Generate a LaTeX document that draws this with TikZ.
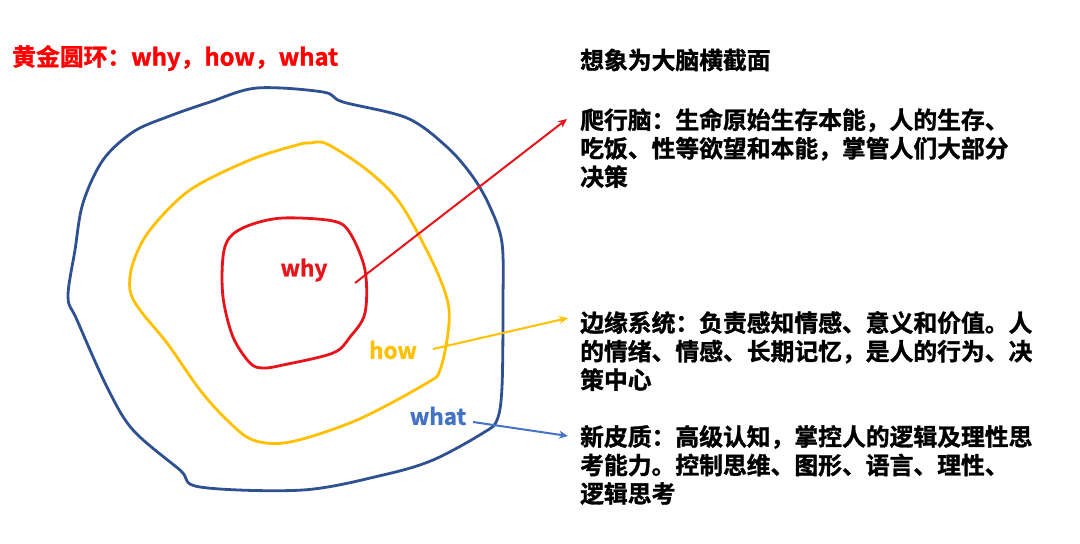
\documentclass[tikz,border=0pt]{standalone}
\usepackage{fontspec}
\setmainfont{Noto Sans CJK SC}[BoldFont={Noto Sans CJK SC Bold}, BoldFeatures={FakeBold=1.3}]
\usetikzlibrary{arrows.meta}
\definecolor{cred}{HTML}{FF0000}
\definecolor{lred}{HTML}{E8141C}
\definecolor{cyel}{HTML}{FFC000}
\definecolor{cnavy}{HTML}{2F5091}
\definecolor{cblue}{HTML}{4472C4}
\tikzset{
  loop/.style={line width=2.8pt, line join=round},
  conn/.style={line width=2pt, -{Stealth[length=9pt,width=8pt]}},
  body/.style={anchor=north west, inner sep=0pt, align=left, font=\bfseries\fontsize{23.8}{28.5}\selectfont},
  lab/.style={inner sep=0pt, font=\bfseries\fontsize{22.5}{26}\selectfont},
}
\begin{document}
\begin{tikzpicture}[x=1pt,y=-1pt]
\useasboundingbox (0,0) rectangle (1080,544);
% loops
\draw[loop, cnavy] plot[smooth cycle, tension=0.55] coordinates {(257,88) (323,92) (343,102) (407,118) (447,147) (473,177) (490,207) (502,243) (503,303) (502,387) (497,420) (483,433) (433,460) (383,475) (303,490) (200,487) (180,470) (133,430) (107,387) (77,320) (68,297) (75,250) (83,203) (103,160) (133,132) (167,117) (210,102)};
\draw[loop, cyel] plot[smooth cycle, tension=0.55] coordinates {(310,143) (327,144) (367,170) (400,203) (433,263) (448,303) (448,333) (440,370) (427,383) (357,420) (290,442) (253,440) (227,420) (200,390) (167,343) (140,310) (130,290) (133,263) (150,230) (190,190) (250,160) (297,145)};
\draw[loop, lred] plot[smooth cycle, tension=0.55] coordinates {(283,218) (333,221) (350,233) (365,270) (365,313) (350,337) (333,353) (283,365) (263,368) (250,363) (233,337) (223,297) (223,257) (230,237) (250,225)};
% title
\node[body, anchor=west, text=cred] (title) at (12,58) {黄金圆环：why，how，what};
\node[body, anchor=west] (head) at (580,60) {想象为大脑横截面};
% labels
\node[lab, text=lred] (why) at (304,270) {why};
\node[lab, text=cyel] (how) at (393,350) {how};
\node[lab, text=cblue] (what) at (438,416) {what};
% text blocks
\node[body] (t1) at (580,108) {爬行脑：生命原始生存本能，人的生存、\\吃饭、性等欲望和本能，掌管人们大部分\\决策};
\node[body] (t2) at (580,311) {边缘系统：负责感知情感、意义和价值。人\\的情绪、情感、长期记忆，是人的行为、决\\策中心};
\node[body] (t3) at (580,425) {新皮质：高级认知，掌控人的逻辑及理性思\\考能力。控制思维、图形、语言、理性、\\逻辑思考};
% connectors
\coordinate (s1) at (355,283);
\coordinate (e1) at (567,119);
\coordinate (s2) at (433,349);
\coordinate (e2) at (568,318);
\coordinate (s3) at (473,422);
\coordinate (e3) at (568,436);
\draw[conn, lred] (s1) -- (e1);
\draw[conn, cyel] (s2) -- (e2);
\draw[conn, cblue] (s3) -- (e3);
\end{tikzpicture}
\end{document}
